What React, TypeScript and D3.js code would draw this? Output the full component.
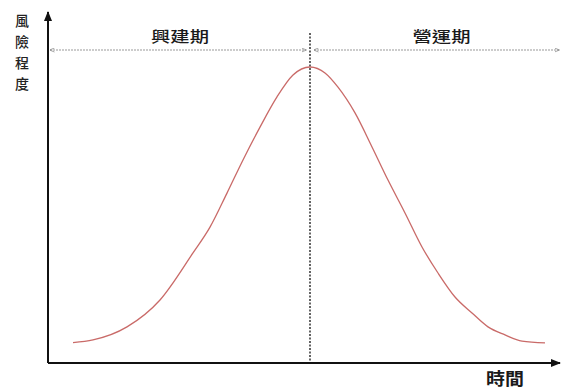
import React, { useEffect, useRef } from "react";
import * as d3 from "d3";

// risk curve (time 0-100, risk 0-100)
const timePoints = [5, 9, 15.8, 22.4, 29, 32.4, 35.8, 39, 42.4, 45.8, 49, 52.4, 55.4, 58, 61.4, 64.8, 68, 71.4, 74.8, 78, 81.4, 84.8, 88, 91.4, 94.8, 99.4];
const riskPoints = [6.9, 7.8, 12.2, 21.3, 37.2, 45.9, 57.4, 68.6, 79.7, 89.9, 97.3, 100, 98, 93.2, 84.5, 73, 61.8, 50.7, 39.2, 30.4, 22.3, 16.9, 12.2, 9.5, 7.4, 6.8];
const phaseLabels = ["興建期", "營運期"];
const yLabelChars = ["風", "險", "程", "度"];
const xLabel = "時間";

const W = 561;
const H = 391;
const FONT = "'Noto Sans CJK TC', 'Noto Sans CJK SC', sans-serif";

const App = () => {
    const svgRef = useRef<SVGSVGElement>(null);

    useEffect(() => {
        const svg = d3.select(svgRef.current);
        svg.selectAll("*").remove();

        const x = d3.scaleLinear().domain([0, 100]).range([48, 548]);
        const y = d3.scaleLinear().domain([0, 100]).range([363, 67]);

        const peakIdx = riskPoints.indexOf(d3.max(riskPoints) as number);
        const peakTime = timePoints[peakIdx];
        const phaseY = 50;

        // arrow markers
        const defs = svg.append("defs");
        defs.append("marker")
            .attr("id", "axisArrow")
            .attr("viewBox", "0 0 10 10")
            .attr("refX", 9)
            .attr("refY", 5)
            .attr("markerWidth", 5)
            .attr("markerHeight", 5)
            .attr("orient", "auto")
            .append("path")
            .attr("d", "M0,1 L10,5 L0,9 z")
            .attr("fill", "#111");
        defs.append("marker")
            .attr("id", "phaseArrow")
            .attr("viewBox", "0 0 10 10")
            .attr("refX", 9)
            .attr("refY", 5)
            .attr("markerWidth", 5)
            .attr("markerHeight", 5)
            .attr("markerUnits", "userSpaceOnUse")
            .attr("orient", "auto-start-reverse")
            .append("path")
            .attr("d", "M0,1 L10,5 L0,9")
            .attr("fill", "none")
            .attr("stroke", "#888")
            .attr("stroke-width", 1.5);

        // axes
        svg.append("line")
            .attr("x1", x(0)).attr("y1", y(0))
            .attr("x2", x(0)).attr("y2", 12)
            .attr("stroke", "#111").attr("stroke-width", 2)
            .attr("marker-end", "url(#axisArrow)");
        svg.append("line")
            .attr("x1", x(0)).attr("y1", y(0))
            .attr("x2", 560).attr("y2", y(0))
            .attr("stroke", "#111").attr("stroke-width", 2)
            .attr("marker-end", "url(#axisArrow)");

        // phase arrows
        const px = x(peakTime);
        const spans = [
            [x(0) + 2, px - 4],
            [px + 4, 559],
        ];
        spans.forEach(([a, b], i) => {
            svg.append("line")
                .attr("x1", a).attr("y1", phaseY)
                .attr("x2", b).attr("y2", phaseY)
                .attr("stroke", "#999")
                .attr("stroke-width", 1)
                .attr("stroke-dasharray", "2,1")
                .attr("marker-start", "url(#phaseArrow)")
                .attr("marker-end", "url(#phaseArrow)");
            svg.append("text")
                .attr("x", (a + b) / 2 + (i === 0 ? 2 : 5))
                .attr("y", 42)
                .attr("text-anchor", "middle")
                .attr("textLength", 58)
                .attr("lengthAdjust", "spacingAndGlyphs")
                .style("font-family", FONT)
                .style("font-size", "15px")
                .style("font-weight", 500)
                .style("fill", "#1a1a1a")
                .text(phaseLabels[i]);
        });

        // dashed divider at peak
        svg.append("line")
            .attr("x1", px).attr("y1", 33)
            .attr("x2", px).attr("y2", y(0) - 2)
            .attr("stroke", "#111")
            .attr("stroke-width", 1.3)
            .attr("stroke-dasharray", "2,1.5");

        // risk curve
        const line = d3
            .line<number>()
            .x((d, i) => x(timePoints[i]))
            .y((d) => y(d))
            .curve(d3.curveMonotoneX);
        svg.append("path")
            .attr("d", line(riskPoints))
            .attr("fill", "none")
            .attr("stroke", "#c0504d")
            .attr("stroke-opacity", 0.85)
            .attr("stroke-width", 1.3);

        // y label, stacked characters
        svg.append("g")
            .selectAll("text")
            .data(yLabelChars)
            .enter()
            .append("text")
            .attr("x", 22)
            .attr("y", (d, i) => 26 + i * 21)
            .attr("text-anchor", "middle")
            .style("font-family", FONT)
            .style("font-size", "14px")
            .style("font-weight", 500)
            .style("fill", "#222")
            .text((d) => d);

        // x label
        svg.append("text")
            .attr("x", 505)
            .attr("y", 385)
            .attr("text-anchor", "middle")
            .attr("textLength", 38)
            .attr("lengthAdjust", "spacingAndGlyphs")
            .style("font-family", FONT)
            .style("font-size", "17px")
            .style("font-weight", "bold")
            .style("fill", "#1a1a1a")
            .text(xLabel);
    }, []);

    return (
        <svg
            ref={svgRef}
            width={W}
            height={H}
            style={{ position: "absolute", left: 0, top: 0, background: "#fff" }}
        ></svg>
    );
};

export default App;
